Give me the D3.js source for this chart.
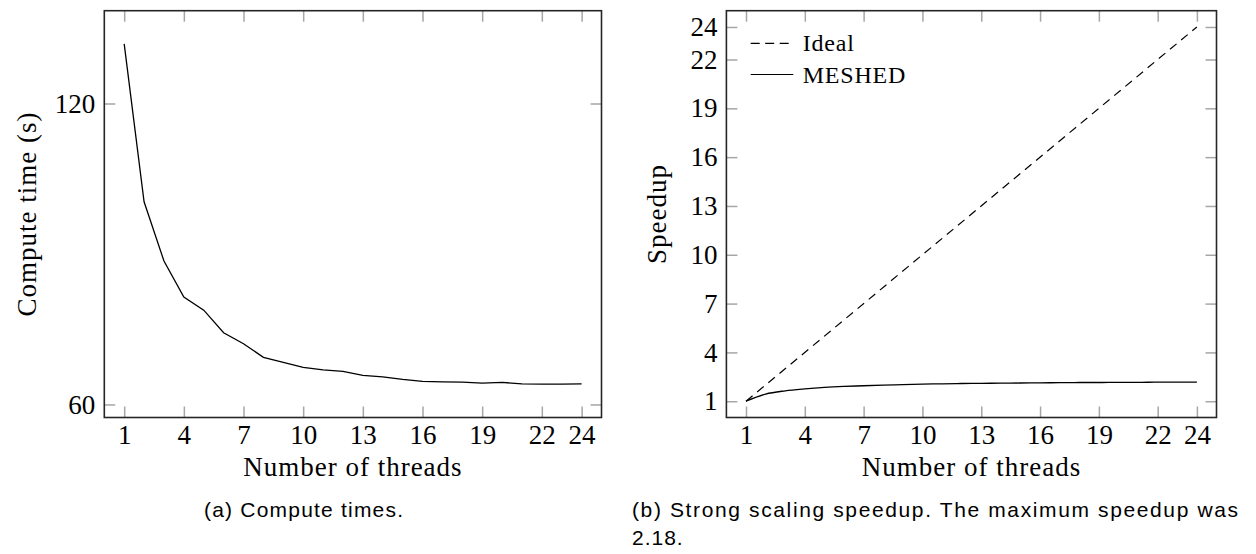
<!DOCTYPE html>
<html>
<head>
<meta charset="utf-8">
<script src="https://cdn.jsdelivr.net/npm/d3@7"></script>
<style>
  body { margin: 0; background: #fff; }
  .tick text { font-family: "Liberation Serif", serif; font-size: 27px; fill: #000; }
  .tick line { stroke: #a6a6a6; stroke-width: 1.5; }
  .lbl { font-family: "Liberation Serif", serif; font-size: 27px; letter-spacing: 1px; }
  .cap { font-family: "Liberation Sans", sans-serif; font-size: 21px; }
</style>
</head>
<body>
<div id="fig"></div>
<script>
// data
const threads = d3.range(1, 25);
const computeTime = [131.9, 100.4, 88.6, 81.4, 78.8, 74.3, 72.1, 69.4, 68.4, 67.4, 66.9, 66.6,
                     65.8, 65.5, 65.0, 64.6, 64.5, 64.45, 64.25, 64.4, 64.1, 64.05, 64.05, 64.1];
const speedup = [1.0, 1.44, 1.64, 1.76, 1.85, 1.91, 1.95, 1.99, 2.02, 2.05, 2.07, 2.09,
                 2.10, 2.11, 2.12, 2.13, 2.14, 2.15, 2.15, 2.16, 2.16, 2.17, 2.17, 2.18];
const idealThreads = [1, 24];
const xTickVals = [1, 4, 7, 10, 13, 16, 19, 22, 24];
const timeTickVals = [60, 120];
const speedTickVals = [1, 4, 7, 10, 13, 16, 19, 22, 24];

const W = 1256, H = 554;
const top_ = 10.7, bottom_ = 417.5;

const svg = d3.select("#fig").append("svg")
    .attr("width", W)
    .attr("height", H);

// draw frame + mirrored inward ticks for one panel
function drawPanel(x, y, xTicks, yTicks) {
    const g = svg.append("g");
    const [x0, x1] = x.range();

    g.append("g")
        .attr("transform", `translate(0,${bottom_})`)
        .call(d3.axisBottom(x).tickValues(xTicks).tickSizeInner(-11).tickSizeOuter(0).tickPadding(7));
    g.append("g")
        .attr("transform", `translate(0,${top_})`)
        .call(d3.axisTop(x).tickValues(xTicks).tickSizeInner(-11).tickSizeOuter(0).tickFormat(""));
    g.append("g")
        .attr("transform", `translate(${x0},0)`)
        .call(d3.axisLeft(y).tickValues(yTicks).tickSizeInner(-11).tickSizeOuter(0).tickPadding(9));
    g.append("g")
        .attr("transform", `translate(${x1},0)`)
        .call(d3.axisRight(y).tickValues(yTicks).tickSizeInner(-11).tickSizeOuter(0).tickFormat(""));

    g.selectAll(".domain").remove();
    g.selectAll(".tick text").attr("font-family", null).attr("font-size", null);

    g.append("rect")
        .attr("x", x0)
        .attr("y", top_)
        .attr("width", x1 - x0)
        .attr("height", bottom_ - top_)
        .attr("fill", "none")
        .attr("stroke", "#262626")
        .attr("stroke-width", 1.6);
    return g;
}

// ---- panel (a) compute times
const xa = d3.scaleLinear().domain([0, 25]).range([104.3, 601.5]);
const ya = d3.scaleLinear().domain([57.4, 138.5]).range([bottom_, top_]);
const ga = drawPanel(xa, ya, xTickVals, timeTickVals);

ga.append("path")
    .datum(threads)
    .attr("fill", "none")
    .attr("stroke", "#000")
    .attr("stroke-width", 1.3)
    .attr("d", d3.line().x(d => xa(d)).y((d, i) => ya(computeTime[i])));

ga.append("text")
    .attr("class", "lbl")
    .attr("x", (xa.range()[0] + xa.range()[1]) / 2)
    .attr("y", 476)
    .attr("text-anchor", "middle")
    .text("Number of threads");

ga.append("text")
    .attr("class", "lbl")
    .attr("transform", `translate(36,${(top_ + bottom_) / 2}) rotate(-90)`)
    .attr("text-anchor", "middle")
    .text("Compute time (s)");

ga.append("text")
    .attr("class", "cap")
    .attr("x", 204)
    .attr("y", 517)
    .attr("textLength", 199)
    .attr("lengthAdjust", "spacing")
    .text("(a) Compute times.");

// ---- panel (b) speedup
const xb = d3.scaleLinear().domain([0, 25]).range([726.4, 1216.5]);
const yb = d3.scaleLinear().domain([0, 25]).range([bottom_, top_]);
const gb = drawPanel(xb, yb, xTickVals, speedTickVals);

gb.append("path")
    .datum(idealThreads)
    .attr("fill", "none")
    .attr("stroke", "#000")
    .attr("stroke-width", 1.2)
    .attr("stroke-dasharray", "8.5,6")
    .attr("d", d3.line().x(d => xb(d)).y(d => yb(d)));

gb.append("path")
    .datum(threads)
    .attr("fill", "none")
    .attr("stroke", "#000")
    .attr("stroke-width", 1.3)
    .attr("d", d3.line().curve(d3.curveMonotoneX).x(d => xb(d)).y((d, i) => yb(speedup[i])));

// legend
const legend = gb.append("g").attr("transform", "translate(750.7,0)");
const legendItems = [
    {name: "Ideal", dash: "9,5.5", ly: 43.3, ty: 51},
    {name: "MESHED", dash: null, ly: 74.5, ty: 82.5}
];
legendItems.forEach(d => {
    legend.append("line")
        .attr("x1", 0).attr("x2", 42.6)
        .attr("y1", d.ly).attr("y2", d.ly)
        .attr("stroke", "#000")
        .attr("stroke-width", 1.2)
        .attr("stroke-dasharray", d.dash);
    legend.append("text")
        .attr("x", 52)
        .attr("y", d.ty)
        .style("font-family", "Liberation Serif, serif")
        .style("font-size", "24px")
        .style("letter-spacing", "0.8px")
        .text(d.name);
});

gb.append("text")
    .attr("class", "lbl")
    .attr("x", (xb.range()[0] + xb.range()[1]) / 2)
    .attr("y", 476)
    .attr("text-anchor", "middle")
    .text("Number of threads");

gb.append("text")
    .attr("class", "lbl")
    .attr("transform", `translate(666,${(top_ + bottom_) / 2}) rotate(-90)`)
    .attr("text-anchor", "middle")
    .text("Speedup");

gb.append("text")
    .attr("class", "cap")
    .attr("x", 632)
    .attr("y", 517)
    .attr("textLength", 606)
    .attr("lengthAdjust", "spacing")
    .text("(b) Strong scaling speedup. The maximum speedup was");

gb.append("text")
    .attr("class", "cap")
    .attr("x", 632)
    .attr("y", 545)
    .attr("letter-spacing", "1px")
    .text("2.18.");
</script>
</body>
</html>
